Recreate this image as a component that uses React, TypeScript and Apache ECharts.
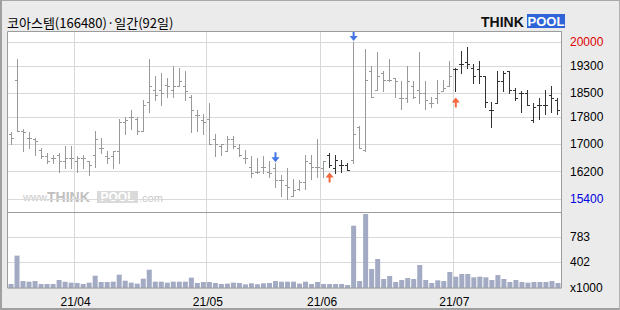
import React, { useEffect, useRef } from "react";
import * as echarts from "echarts";

const dates = [
  "21/03/17","21/03/18","21/03/19","21/03/22","21/03/23","21/03/24","21/03/25","21/03/26","21/03/29","21/03/30","21/03/31",
  "21/04/01","21/04/02","21/04/05","21/04/06","21/04/07","21/04/08","21/04/09","21/04/12","21/04/13","21/04/14","21/04/15","21/04/16","21/04/19","21/04/20","21/04/21","21/04/22","21/04/23","21/04/26","21/04/27","21/04/28","21/04/29","21/04/30",
  "21/05/03","21/05/04","21/05/06","21/05/07","21/05/10","21/05/11","21/05/12","21/05/13","21/05/14","21/05/17","21/05/18","21/05/20","21/05/21","21/05/24","21/05/25","21/05/26","21/05/27","21/05/28","21/05/31",
  "21/06/01","21/06/02","21/06/03","21/06/04","21/06/07","21/06/08","21/06/09","21/06/10","21/06/11","21/06/14","21/06/15","21/06/16","21/06/17","21/06/18","21/06/21","21/06/22","21/06/23","21/06/24","21/06/25","21/06/28","21/06/29","21/06/30",
  "21/07/01","21/07/02","21/07/05","21/07/06","21/07/07","21/07/08","21/07/09","21/07/12","21/07/13","21/07/14","21/07/15","21/07/16","21/07/19","21/07/20","21/07/21","21/07/22","21/07/23","21/07/26",
];

const openP = [17300,18900,17400,17200,17150,16850,16650,16600,16700,16500, 16600,16500,16600,16500,16700,16900,16650,16650,16800,17650, 17800,17750,17400,18250,18600,18600,18750,18600,18700,18700, 18400,17850,17700,17750,17150,16950,16800,17150,16900,16600, 16350,16200,16350,16200,16300,15950,15800,15500,15700,15900, 16450,16350,16300,16700,16300,16400,16400,16550,17500,16850, 19150,18600,19100,18900,18950,18350,18350,18700,18600,18500, 18200,18350,18550,18700,19200,19350,19400,19250,19200,19000, 18000,18200,18850,19150,18600,18500,18500,17700,18150,18150, 18450,18300];
const highP = [17350,19500,17450,17350,17200,16900,16750,16700,16750,16950, 16950,16650,16700,16500,17400,17200,16800,16800,17750,17800, 18000,17800,18300,19500,19000,19100,18950,19300,19250,19150, 18450,18000,17900,18200,17300,17000,17250,17250,17000,16850, 16650,16600,16650,16500,16450,16100,16300,16000,15950,16700, 16700,17150,16500,16750,16700,16550,16450,20000,17550,19800, 19300,19700,19150,19500,18950,18850,19300,18850,19700,18850, 18400,18900,18900,19450,19250,19750,19850,19350,19450,19000, 18250,19150,19150,19150,18650,18550,18600,18200,18350,18600, 18700,18350];
const lowP = [17000,17400,16800,16900,16700,16600,16450,16450,16200,16300, 16300,16200,16300,16100,16350,16750,16450,16300,16450,17300, 17450,17300,17400,17950,18300,18150,18400,18400,18700,18300, 17350,17400,17300,17000,16650,16700,16800,16900,16650,16450, 16050,16150,16150,16050,15750,15500,15400,15500,15650,15700, 16000,16050,16050,16350,16150,16200,16250,16450,16900,16800, 18400,18600,18550,18850,18400,18050,18250,18350,18200,18050, 18100,18200,18550,18700,18550,19100,19250,18800,18800,18100, 17500,18200,18550,18500,18300,17950,18150,17650,17750,17900, 17950,17900];
const closeP = [17200,17400,17350,17200,17100,16650,16500,16600,16500,16600, 16600,16600,16600,16400,17150,16900,16600,16800,17650,17700, 17800,17400,18150,18700,18450,18500,18700,18700,18850,18550, 18000,17850,17650,17000,17000,17000,17150,16950,16700,16600, 16150,16200,16350,16150,15950,15950,15750,15650,15900,16500, 16350,16350,16500,16400,16550,16400,16250,17300,16900,18900, 18400,19000,18900,18900,18850,18350,18850,18400,18500,18300, 18200,18500,18650,19000,19200,19350,19350,19000,19000,18250, 18000,18850,19100,18600,18350,18500,18150,18100,18150,18150, 18350,18000];
const volume = [61,497,107,97,107,61,61,61,123,97, 82,77,61,82,189,92,92,97,204,112, 82,67,143,281,97,97,82,97,97,97, 159,77,92,92,77,61,67,82,77,56, 72,56,72,77,107,97,97,97,67,97, 61,92,61,61,61,61,46,957,107,1136, 292,445,138,184,92,123,153,138,353,123, 77,118,107,246,174,215,215,164,174,164, 123,199,138,92,123,92,82,92,92,92, 107,77];

const priceTicks = [15400, 16200, 17000, 17800, 18500, 19300, 20000];
const volumeTicks = [0, 402, 783];
const buySignals = [53, 74];
const sellSignals = [44, 57];

const PRICE_MIN = 15019;
const PRICE_MAX = 20322;
const VOL_MAX = 1167;

const GREY = "#999999";
const DARK = "#333333";
const GRID_LINE = "#d9d9d9";
const FRAME = "#9c9c9c";
const LABEL_FONT = "'Liberation Sans',Arial,sans-serif";

const monthStart = new Set<number>();
dates.forEach((d, i) => {
  if (i > 0 && d.slice(3, 5) !== dates[i - 1].slice(3, 5)) monthStart.add(i);
});

const darkFlags = dates.map((_, i) => {
  let state = 0;
  for (let k = 0; k <= i; k++) {
    if (buySignals.includes(k)) state = 1;
    if (sellSignals.includes(k)) state = 0;
  }
  return state;
});

const ohlcData = dates.map((_, i) => [i, openP[i], highP[i], lowP[i], closeP[i], darkFlags[i]]);

const renderItem = (_params: any, api: any) => {
  const idx = api.value(0);
  const o = api.coord([idx, api.value(1)]);
  const h = api.coord([idx, api.value(2)]);
  const l = api.coord([idx, api.value(3)]);
  const c = api.coord([idx, api.value(4)]);
  const X = Math.floor(o[0]);
  const color = api.value(5) ? DARK : GREY;
  const st = { stroke: color, lineWidth: 1 };
  const ry = (v: number) => Math.round(v) + 0.5;
  return {
    type: "group",
    children: [
      { type: "line", shape: { x1: X + 0.5, y1: Math.round(h[1]), x2: X + 0.5, y2: Math.round(l[1]) + 1 }, style: st },
      { type: "line", shape: { x1: X - 2, y1: ry(o[1]), x2: X + 1, y2: ry(o[1]) }, style: st },
      { type: "line", shape: { x1: X, y1: ry(c[1]), x2: X + 3, y2: ry(c[1]) }, style: st },
    ],
  };
};

const downArrow = "path://M3,0 L5,0 L5,5 L8,5 L4,10 L0,5 L3,5 Z";
const upArrow = "path://M4,0 L8,5 L5,5 L5,10 L3,10 L3,5 L0,5 Z";

export default function App() {
  const ref = useRef<HTMLDivElement>(null);
  useEffect(() => {
    if (!ref.current) return;
    const chart = echarts.init(ref.current, undefined, { renderer: "svg" });
    const option: any = {
      animation: false,
      backgroundColor: "#ebebeb",
      grid: [
        { left: 8, top: 31, width: 553, height: 181 },
        { left: 8, top: 212, width: 553, height: 76 },
      ],
      xAxis: [
        {
          type: "category", gridIndex: 0, data: dates, boundaryGap: true,
          axisLine: { show: false }, axisTick: { show: false }, axisLabel: { show: false },
          splitLine: { show: true, interval: (i: number) => monthStart.has(i), lineStyle: { color: GRID_LINE, width: 1 } },
        },
        {
          type: "category", gridIndex: 1, data: dates, boundaryGap: true,
          axisLine: { show: false }, axisTick: { show: false },
          axisLabel: {
            show: true, interval: (i: number) => monthStart.has(i),
            formatter: (v: string) => v.slice(0, 5),
            color: "#000", fontSize: 12, fontFamily: LABEL_FONT, margin: 8, padding: [0, 3, 0, 0],
          },
          splitLine: { show: true, interval: (i: number) => monthStart.has(i), lineStyle: { color: GRID_LINE, width: 1 } },
        },
      ],
      yAxis: [
        {
          type: "value", gridIndex: 0, position: "right", min: PRICE_MIN, max: PRICE_MAX,
          axisLine: { show: false },
          axisTick: { show: false, customValues: priceTicks },
          axisLabel: {
            customValues: priceTicks, margin: 9, fontSize: 12, fontFamily: LABEL_FONT,
            formatter: (v: number) => String(Math.round(v)),
            color: (v: any) => (Number(v) === 20000 ? "#e00000" : Number(v) === 15400 ? "#0000e0" : "#000000"),
          },
          splitLine: { show: true, lineStyle: { color: GRID_LINE, width: 1 } },
        },
        {
          type: "value", gridIndex: 1, position: "right", min: 0, max: VOL_MAX,
          axisLine: { show: false },
          axisTick: { show: false, customValues: volumeTicks },
          axisLabel: {
            customValues: volumeTicks, margin: 9, fontSize: 12, fontFamily: LABEL_FONT, color: "#000",
            formatter: (v: number) => (v === 0 ? "x1000" : String(Math.round(v))),
          },
          splitLine: { show: true, lineStyle: { color: GRID_LINE, width: 1 } },
        },
      ],
      series: [
        {
          type: "custom", xAxisIndex: 0, yAxisIndex: 0, renderItem, data: ohlcData,
          encode: { x: 0, y: [1, 2, 3, 4] }, z: 3,
        },
        {
          type: "bar", xAxisIndex: 1, yAxisIndex: 1, data: volume, barWidth: 5,
          itemStyle: { color: "#a3aac3" }, silent: true,
        },
        {
          type: "scatter", xAxisIndex: 0, yAxisIndex: 0, symbol: downArrow, symbolSize: [8, 10],
          symbolOffset: [0, -6], itemStyle: { color: "#1553e0" }, z: 5,
          data: sellSignals.map((i) => [i, highP[i]]),
        },
        {
          type: "scatter", xAxisIndex: 0, yAxisIndex: 0, symbol: upArrow, symbolSize: [8, 10],
          symbolOffset: [0, 11], itemStyle: { color: "#f0400e" }, z: 5,
          data: buySignals.map((i) => [i, lowP[i]]),
        },
      ],
      graphic: [
        { type: "rect", z: -10, shape: { x: 7, y: 31, width: 555, height: 257 }, style: { fill: "#ffffff" } },
        {
          type: "group", z: -5, children: [
            { type: "text", x: 23, y: 197, z: -5, style: { text: "www.", fill: "#c8c8c8", font: "11px 'Liberation Sans', Arial", verticalAlign: "middle" } },
            { type: "text", x: 47, y: 196.5, z: -5, style: { text: "THINK", fill: "#c0c0c0", font: "bold 14px 'Liberation Sans', Arial", verticalAlign: "middle" } },
            { type: "rect", z: -5, shape: { x: 97, y: 191, width: 41, height: 12 }, style: { fill: "#dadada" } },
            { type: "text", x: 117.5, y: 197, z: -4, style: { text: "POOL", fill: "#ffffff", font: "bold 12px 'Liberation Sans', Arial", align: "center", verticalAlign: "middle" } },
            { type: "text", x: 139, y: 198, z: -5, style: { text: ".com", fill: "#c8c8c8", font: "11px 'Liberation Sans', Arial", verticalAlign: "middle" } },
          ],
        },
        { type: "rect", z: 20, shape: { x: 7.5, y: 31.5, width: 554, height: 256.5 }, style: { fill: "none", stroke: FRAME, lineWidth: 1 } },
        { type: "line", z: 20, shape: { x1: 7.5, y1: 212.5, x2: 561.5, y2: 212.5 }, style: { stroke: FRAME, lineWidth: 1 } },
        { type: "line", z: 20, shape: { x1: 0, y1: 0.5, x2: 620, y2: 0.5 }, style: { stroke: "#a8a8a8", lineWidth: 1 } },
        { type: "line", z: 20, shape: { x1: 1, y1: 0, x2: 1, y2: 310 }, style: { stroke: "#a0a0a0", lineWidth: 2 } },
        { type: "line", z: 20, shape: { x1: 0, y1: 309, x2: 620, y2: 309 }, style: { stroke: "#a0a0a0", lineWidth: 2 } },
        { type: "line", z: 20, shape: { x1: 619.5, y1: 0, x2: 619.5, y2: 310 }, style: { stroke: "#b0b0b0", lineWidth: 1 } },
        { type: "text", x: 7, y: 22.5, style: { text: "코아스템(166480)·일간(92일)", fill: "#000", font: "13px 'Noto Sans CJK KR', sans-serif", verticalAlign: "middle" } },
        { type: "text", x: 481, y: 21.5, style: { text: "THINK", fill: "#111", font: "bold 14px 'Liberation Sans', Arial", verticalAlign: "middle" } },
        { type: "rect", shape: { x: 527, y: 14, width: 38, height: 14 }, style: { fill: "#2e64d8" } },
        { type: "text", x: 546, y: 21.5, style: { text: "POOL", fill: "#ffffff", font: "bold 13px 'Liberation Sans', Arial", align: "center", verticalAlign: "middle" } },
      ],
    };
    chart.setOption(option);
    return () => chart.dispose();
  }, []);
  return (
    <div style={{ position: "fixed", left: 0, top: 0, width: 620, height: 310 }}>
      <div ref={ref} style={{ width: 620, height: 310 }} />
    </div>
  );
}
